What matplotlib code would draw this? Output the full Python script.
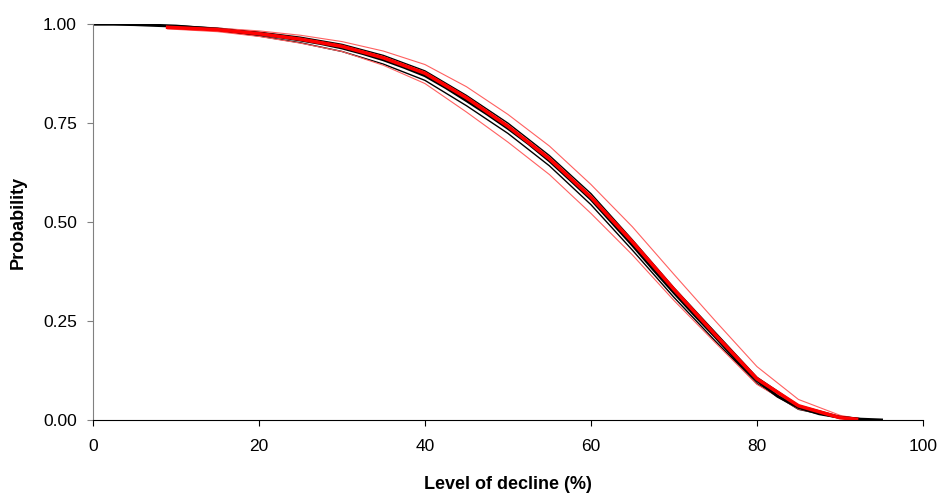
import numpy as np
import matplotlib.pyplot as plt

plt.rcParams['font.family'] = ['Liberation Sans', 'DejaVu Sans']

# Level of decline (%) and probability, central black curve
x_black = [0, 2.5, 5, 7.5, 10, 12.5, 15, 17.5, 20, 22.5, 25, 27.5, 30, 32.5, 35, 37.5,
           40, 42.5, 45, 47.5, 50, 52.5, 55, 57.5, 60, 62.5, 65, 67.5, 70, 72.5, 75,
           77.5, 80, 82.5, 85, 87.5, 90, 92.5, 95]
p_black = [1.000, 1.000, 0.999, 0.997, 0.995, 0.991, 0.987, 0.981, 0.975, 0.968, 0.960,
           0.951, 0.940, 0.926, 0.910, 0.891, 0.870, 0.840, 0.807, 0.773, 0.737, 0.698,
           0.655, 0.607, 0.558, 0.500, 0.442, 0.381, 0.322, 0.265, 0.210, 0.152, 0.100,
           0.060, 0.032, 0.016, 0.007, 0.002, 0.000]

# thin black curves
x_band = [10, 15, 20, 25, 30, 35, 40, 45, 50, 55, 60, 65, 70, 75, 80, 85, 90, 93]
p_black_hi = [0.996, 0.990, 0.980, 0.967, 0.949, 0.921, 0.882, 0.820, 0.750, 0.668,
              0.572, 0.455, 0.334, 0.221, 0.108, 0.037, 0.009, 0.002]
p_black_lo = [0.994, 0.984, 0.970, 0.953, 0.931, 0.899, 0.858, 0.794, 0.724, 0.642,
              0.544, 0.429, 0.310, 0.199, 0.092, 0.027, 0.005, 0.001]

# red curves (start later, end earlier)
x_red = [9, 15, 20, 25, 30, 35, 40, 45, 50, 55, 60, 65, 70, 75, 80, 85, 90, 92]
p_red = [0.992, 0.986, 0.976, 0.962, 0.944, 0.915, 0.876, 0.814, 0.742, 0.660,
         0.563, 0.450, 0.330, 0.215, 0.104, 0.036, 0.006, 0.002]
p_red_hi = [0.995, 0.990, 0.983, 0.972, 0.956, 0.932, 0.898, 0.842, 0.772, 0.692,
            0.595, 0.488, 0.368, 0.250, 0.135, 0.052, 0.012, 0.004]
p_red_lo = [0.988, 0.981, 0.969, 0.952, 0.931, 0.896, 0.850, 0.778, 0.702, 0.620,
            0.522, 0.417, 0.302, 0.195, 0.090, 0.028, 0.004, 0.001]

fig = plt.figure(figsize=(9.41, 4.93), dpi=100)
ax = fig.add_axes([0.0988, 0.148, 0.882, 0.803])

ax.plot(x_band, p_black_hi, color="black", lw=1.0)
ax.plot(x_band, p_black_lo, color="black", lw=1.0)
ax.plot(x_red, p_red_hi, color="#ff6060", lw=0.8)
ax.plot(x_red, p_red_lo, color="#ff6060", lw=0.8)
ax.plot(x_black, p_black, color="black", lw=2.2)
ax.plot(x_red, p_red, color="#ff0000", lw=2.6)

ax.set_xlim(0, 100)
ax.set_ylim(0, 1)
ax.set_xticks([0, 20, 40, 60, 80, 100])
ax.set_yticks([0, 0.25, 0.5, 0.75, 1.0])
ax.set_yticklabels(["0.00", "0.25", "0.50", "0.75", "1.00"])

for side in ["top", "right"]:
    ax.spines[side].set_visible(False)
ax.spines["left"].set_color("#808080")
ax.spines["bottom"].set_color("black")
ax.tick_params(axis="y", direction="out", length=4.5, pad=7, colors="#808080",
               labelcolor="black", labelsize=12.5)
ax.tick_params(axis="x", direction="out", length=4.5, pad=9, labelsize=12.5)

ax.set_xlabel("Level of decline (%)", fontsize=13, fontweight="bold", labelpad=16)
ax.set_ylabel("Probability", fontsize=13, fontweight="bold", labelpad=12)

plt.savefig("out.png", dpi=100)
plt.close()
